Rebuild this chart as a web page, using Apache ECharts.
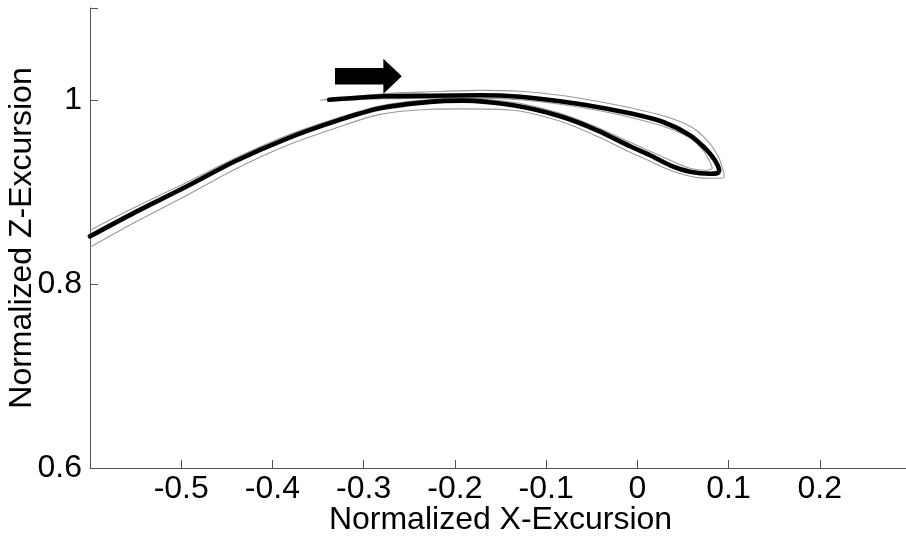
<!DOCTYPE html>
<html>
<head>
<meta charset="utf-8">
<script src="https://cdn.jsdelivr.net/npm/echarts@6/dist/echarts.min.js"></script>
<style>
  html, body { margin: 0; padding: 0; background: #fff; }
  #chart { width: 906px; height: 537px; }
</style>
</head>
<body>
<div id="chart"></div>
<script>
// Mean trajectory in the X-Z plane (starts at the left end of the upper branch,
// runs right, turns at the tip and returns along the lower branch).
const meanPath = [
  [-0.3379, 1.0002], [-0.2787, 1.0040], [-0.2272, 1.0046], [-0.1724, 1.0051],
  [-0.1285, 1.0035], [-0.0846, 0.9986], [-0.0441, 0.9924], [-0.0079, 0.9855],
  [0.0283, 0.9761], [0.0579, 0.9616], [0.0743, 0.9475], [0.0820, 0.9388],
  [0.0875, 0.9301], [0.0897, 0.9236], [0.0875, 0.9203], [0.0798, 0.9198],
  [0.0579, 0.9220], [0.0360, 0.9290], [0.0140, 0.9399], [-0.0079, 0.9497],
  [-0.0441, 0.9671], [-0.0846, 0.9823], [-0.1362, 0.9942], [-0.1910, 0.9993],
  [-0.2272, 0.9980], [-0.2820, 0.9910], [-0.3314, 0.9768], [-0.3862, 0.9573],
  [-0.4410, 0.9334], [-0.4958, 0.9051], [-0.5507, 0.8779], [-0.6000, 0.8518]
];

// Outer envelope trajectory
const outerPath = [
  [-0.3478, 0.9997], [-0.2787, 1.0067], [-0.2272, 1.0089], [-0.1724, 1.0105],
  [-0.1285, 1.0095], [-0.0846, 1.0051], [-0.0441, 0.9986], [-0.0079, 0.9915],
  [0.0283, 0.9828], [0.0579, 0.9714], [0.0765, 0.9562], [0.0886, 0.9388],
  [0.0941, 0.9236], [0.0952, 0.9160], [0.0853, 0.9149], [0.0689, 0.9154],
  [0.0579, 0.9171], [0.0360, 0.9236], [0.0140, 0.9334], [-0.0079, 0.9431],
  [-0.0441, 0.9605], [-0.0846, 0.9768], [-0.1362, 0.9888], [-0.1910, 0.9904],
  [-0.2272, 0.9899], [-0.2820, 0.9844], [-0.3314, 0.9692], [-0.3862, 0.9497],
  [-0.4410, 0.9247], [-0.4958, 0.8953], [-0.5507, 0.8671], [-0.6000, 0.8399]
];

// Inner envelope trajectory
const innerPath = [
  [-0.3379, 0.9986], [-0.2787, 1.0013], [-0.2272, 1.0018], [-0.1724, 1.0018],
  [-0.1285, 1.0002], [-0.0846, 0.9953], [-0.0441, 0.9888], [-0.0079, 0.9812],
  [0.0283, 0.9714], [0.0579, 0.9584], [0.0721, 0.9453], [0.0798, 0.9323],
  [0.0820, 0.9258], [0.0743, 0.9236], [0.0579, 0.9258], [0.0360, 0.9345],
  [0.0140, 0.9442], [-0.0079, 0.9540], [-0.0441, 0.9703], [-0.0846, 0.9855],
  [-0.1362, 0.9975], [-0.1910, 1.0008], [-0.2272, 1.0002], [-0.2820, 0.9937],
  [-0.3314, 0.9795], [-0.3862, 0.9605], [-0.4410, 0.9366], [-0.4958, 0.9095],
  [-0.5507, 0.8834], [-0.6000, 0.8584]
];

// Direction arrow: [tail x, head base x, tip x, y]
const directionArrow = [[-0.3314, -0.2784, -0.2582, 1.0258]];

const xTickLabels = ['-0.5', '-0.4', '-0.3', '-0.2', '-0.1', '0', '0.1', '0.2'];
const yTickLabels = ['0.6', '0.8', '1'];

const FONT = '"Liberation Sans", Arial, sans-serif';
const AXIS_COLOR = '#555';

function pickLabel(list) {
  return function (v) {
    const s = String(+(+v).toFixed(3));
    return list.indexOf(s) >= 0 ? s : '';
  };
}

const chart = echarts.init(document.getElementById('chart'), null, { renderer: 'canvas' });

chart.setOption({
  animation: false,
  backgroundColor: '#fff',
  grid: { left: 90, top: 8, right: -5, bottom: 69, containLabel: false, outerBoundsMode: 'none' },
  xAxis: {
    type: 'value',
    min: -0.6, max: 0.3, interval: 0.1,
    name: 'Normalized X-Excursion',
    nameLocation: 'middle',
    nameGap: 36,
    nameMoveOverlap: false,
    nameTextStyle: { color: '#000', fontSize: 32, fontFamily: FONT },
    axisLine: { show: true, onZero: false, lineStyle: { color: AXIS_COLOR, width: 1 } },
    axisTick: { show: true, inside: true, length: 8, lineStyle: { color: AXIS_COLOR, width: 1 } },
    axisLabel: { color: '#000', fontSize: 32, fontFamily: FONT, margin: 5, formatter: pickLabel(xTickLabels) },
    splitLine: { show: false }
  },
  yAxis: {
    type: 'value',
    min: 0.6, max: 1.1, interval: 0.2,
    name: 'Normalized Z-Excursion',
    nameLocation: 'middle',
    nameGap: 52,
    nameMoveOverlap: false,
    nameTextStyle: { color: '#000', fontSize: 32, fontFamily: FONT },
    axisLine: { show: true, onZero: false, lineStyle: { color: AXIS_COLOR, width: 1 } },
    axisTick: { show: true, inside: true, length: 8, lineStyle: { color: AXIS_COLOR, width: 1 } },
    axisLabel: { color: '#000', fontSize: 32, fontFamily: FONT, margin: 8, formatter: pickLabel(yTickLabels) },
    splitLine: { show: false }
  },
  series: [
    {
      name: 'outer',
      type: 'line',
      data: outerPath,
      showSymbol: false,
      smooth: 0.3,
      clip: true,
      lineStyle: { color: '#9a9a9a', width: 1.1 },
      z: 2
    },
    {
      name: 'inner',
      type: 'line',
      data: innerPath,
      showSymbol: false,
      smooth: 0.3,
      clip: true,
      lineStyle: { color: '#9a9a9a', width: 1.1 },
      z: 2
    },
    {
      name: 'mean',
      type: 'line',
      data: meanPath,
      showSymbol: false,
      smooth: 0.3,
      clip: true,
      lineStyle: { color: '#000', width: 4.6, cap: 'round', join: 'round' },
      z: 3
    },
    {
      name: 'arrow',
      type: 'custom',
      data: directionArrow,
      clip: false,
      renderItem: function (params, api) {
        const tail = api.coord([api.value(0), api.value(3)]);
        const base = api.coord([api.value(1), api.value(3)]);
        const tip = api.coord([api.value(2), api.value(3)]);
        const hs = 8.3, hh = 17.5, y = tail[1];
        return {
          type: 'polygon',
          shape: {
            points: [
              [tail[0], y - hs], [base[0], y - hs], [base[0], y - hh],
              [tip[0], y], [base[0], y + hh], [base[0], y + hs], [tail[0], y + hs]
            ]
          },
          style: { fill: '#000' }
        };
      },
      z: 4
    }
  ]
});
</script>
</body>
</html>
